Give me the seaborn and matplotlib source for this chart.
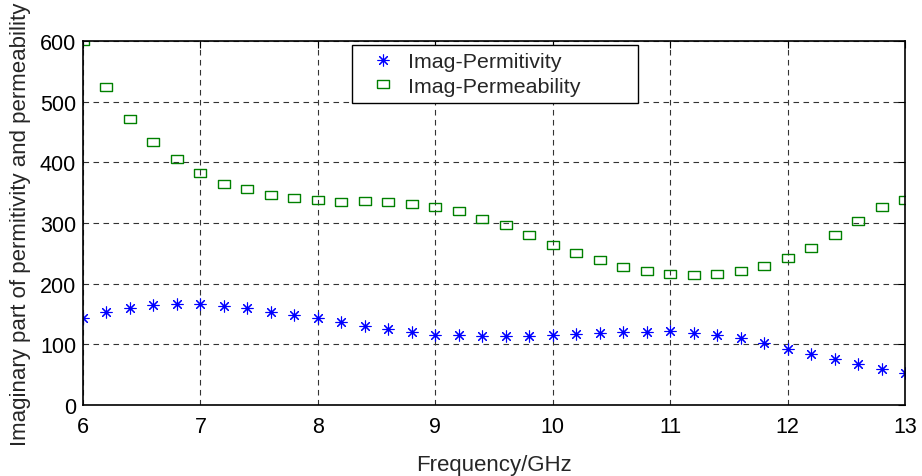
import numpy as np
import pandas as pd
import seaborn as sns
import matplotlib.pyplot as plt

# Frequency points (GHz)
freq = [6.0, 6.2, 6.4, 6.6, 6.8, 7.0, 7.2, 7.4, 7.6, 7.8,
        8.0, 8.2, 8.4, 8.6, 8.8, 9.0, 9.2, 9.4, 9.6, 9.8,
        10.0, 10.2, 10.4, 10.6, 10.8, 11.0, 11.2, 11.4, 11.6, 11.8,
        12.0, 12.2, 12.4, 12.6, 12.8, 13.0]

# Imaginary part of permittivity
permittivity = [143, 153, 159, 165, 167, 167, 163, 159, 154, 149,
                143, 137, 130, 125, 121, 116, 115, 113, 113, 113,
                115, 117, 118, 121, 121, 122, 119, 115, 110, 102,
                92, 84, 76, 67, 59, 52]

# Imaginary part of permeability
permeability = [600, 524, 471, 433, 405, 382, 364, 356, 346, 341,
                338, 335, 336, 334, 331, 326, 319, 307, 296, 280,
                264, 251, 239, 228, 221, 216, 214, 216, 221, 229,
                242, 259, 280, 304, 326, 338]

x_ticks = [6, 7, 8, 9, 10, 11, 12, 13]
y_ticks = [0, 100, 200, 300, 400, 500, 600]

sns.set_style("white")
plt.rcParams['font.family'] = ['Liberation Sans', 'DejaVu Sans']

fig = plt.figure(figsize=(9.22, 4.77), dpi=100)
ax = fig.add_axes([0.090, 0.149, 0.8916, 0.763])

# wide rectangle marker like the MATLAB squares
rect = [(-1.35, -1), (1.35, -1), (1.35, 1), (-1.35, 1), (-1.35, -1)]

sns.lineplot(x=freq, y=permittivity, ax=ax, linestyle='', marker=(8, 2, 0),
             markersize=8.5, color='#0000ff', markeredgecolor='#0000ff',
             markeredgewidth=0.8, label='Imag-Permitivity')
sns.lineplot(x=freq, y=permeability, ax=ax, linestyle='', marker=rect,
             markersize=8.5, color='#008000', markerfacecolor='none',
             markeredgecolor='#008000', markeredgewidth=1.0,
             label='Imag-Permeability')

ax.set_xlim(6, 13)
ax.set_ylim(0, 600)
ax.set_xticks(x_ticks)
ax.set_yticks(y_ticks)
ax.tick_params(direction='in', length=5, width=0.8, top=True, right=True,
               labelsize=15.5, colors='black', pad=5)
ax.tick_params(axis='x', pad=8)
ax.grid(True, color='#333333', linestyle=(0, (5, 4)), linewidth=0.8)
for s in ax.spines.values():
    s.set_color('black')
    s.set_linewidth(1.2)

ax.set_xlabel('Frequency/GHz', fontsize=16, labelpad=12)
ax.set_ylabel('Imaginary part of permitivity and permeability', fontsize=16,
              labelpad=6)

leg = ax.legend(loc='upper left', bbox_to_anchor=(0.327, 0.830, 0.348, 0.159),
                mode='expand', fontsize=15.4, frameon=True, fancybox=False,
                handlelength=2.2, borderpad=0.35, labelspacing=0.25,
                handletextpad=0.1, borderaxespad=0)
leg.get_frame().set_edgecolor('black')
leg.get_frame().set_linewidth(1.0)
leg.get_frame().set_alpha(1)

fig.savefig('out.png', dpi=100)
